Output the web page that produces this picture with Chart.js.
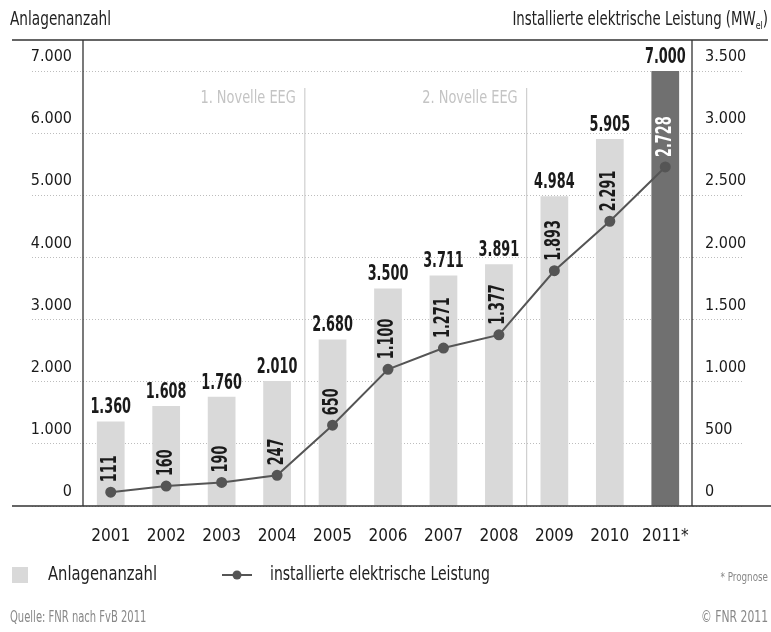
<!DOCTYPE html>
<html>
<head>
<meta charset="utf-8">
<script src="https://cdn.jsdelivr.net/npm/chart.js@4.4.0/dist/chart.umd.min.js"></script>
<style>
  html, body { margin: 0; padding: 0; background: #fff; }
  #wrap { width: 771px; height: 632px; position: relative; }
</style>
</head>
<body>
<div id="wrap"><canvas id="chart"></canvas></div>
<script>
// Data
const years = ['2001', '2002', '2003', '2004', '2005', '2006', '2007', '2008', '2009', '2010', '2011*'];
const anlagen = [1360, 1608, 1760, 2010, 2680, 3500, 3711, 3891, 4984, 5905, 7000];
const leistung = [111, 160, 190, 247, 650, 1100, 1271, 1377, 1893, 2291, 2728];
const novellen = [
  { after: '2004', label: '1. Novelle EEG' },
  { after: '2008', label: '2. Novelle EEG' },
];

const FONT = '"DejaVu Sans Condensed", "DejaVu Sans", sans-serif';
const fmt = (v) => String(v).replace(/\B(?=(\d{3})+(?!\d))/g, '.');

Chart.defaults.font.family = FONT;

const barColors = years.map((y) => (y.endsWith('*') ? '#707070' : '#d9d9d9'));

// draws text squeezed horizontally (the original uses a condensed face)
function text(ctx, str, x, y, font, opts = {}) {
  const { align = 'left', sx = 0.8, color = '#222', baseline = 'middle' } = opts;
  ctx.save();
  ctx.font = font;
  ctx.fillStyle = color;
  ctx.textBaseline = baseline;
  ctx.textAlign = align;
  ctx.translate(x, y);
  ctx.scale(sx, 1);
  ctx.fillText(str, 0, 0);
  const w = ctx.measureText(str).width * sx;
  ctx.restore();
  return w;
}

const decor = {
  id: 'decor',
  beforeDatasetsDraw(chart) {
    const { ctx, chartArea, scales: { x } } = chart;
    ctx.save();
    novellen.forEach((n) => {
      const i = years.indexOf(n.after);
      const lx = (x.getPixelForValue(i) + x.getPixelForValue(i + 1)) / 2;
      ctx.strokeStyle = '#cfcfcf';
      ctx.lineWidth = 1.2;
      ctx.beginPath();
      ctx.moveTo(lx, 88);
      ctx.lineTo(lx, chartArea.bottom);
      ctx.stroke();
      text(ctx, n.label, lx - 9, 98, `18px ${FONT}`, { align: 'right', sx: 0.8, color: '#c4c4c4' });
    });
    ctx.restore();
  },
  afterDatasetsDraw(chart) {
    const { ctx, chartArea } = chart;
    ctx.save();
    // frame
    ctx.strokeStyle = '#333';
    ctx.lineWidth = 1.3;
    ctx.beginPath();
    ctx.moveTo(12, 40); ctx.lineTo(768, 40);
    ctx.moveTo(12, chartArea.bottom); ctx.lineTo(771, chartArea.bottom);
    ctx.moveTo(chartArea.left, 40); ctx.lineTo(chartArea.left, chartArea.bottom);
    ctx.moveTo(chartArea.right - 1, 40); ctx.lineTo(chartArea.right - 1, chartArea.bottom);
    ctx.stroke();

    // bar values
    const bars = chart.getDatasetMeta(0).data;
    bars.forEach((b, i) => {
      text(ctx, fmt(anlagen[i]), b.x, b.y - 3, `bold 21px ${FONT}`,
        { align: 'center', sx: 0.68, color: '#1a1a1a', baseline: 'bottom' });
    });

    // line values, rotated
    const pts = chart.getDatasetMeta(1).data;
    pts.forEach((p, i) => {
      ctx.save();
      ctx.translate(p.x, p.y - 10);
      ctx.rotate(-Math.PI / 2);
      text(ctx, fmt(leistung[i]), 0, 0, `bold 21px ${FONT}`,
        { align: 'left', sx: 0.68, color: years[i].endsWith('*') ? '#fff' : '#1a1a1a' });
      ctx.restore();
    });

    // axis titles
    text(ctx, 'Anlagenanzahl', 10, 20, `19px ${FONT}`, { sx: 0.8 });
    const t1 = 'Installierte elektrische Leistung (MW';
    const fBig = `19px ${FONT}`;
    const fSub = `11px ${FONT}`;
    ctx.save();
    ctx.font = fBig;
    const w1 = ctx.measureText(t1).width * 0.78;
    const w2 = ctx.measureText(')').width * 0.78;
    ctx.font = fSub;
    const ws = ctx.measureText('el').width * 0.8;
    ctx.restore();
    const tx = 768 - w1 - ws - w2;
    text(ctx, t1, tx, 20, fBig, { sx: 0.78 });
    text(ctx, 'el', tx + w1, 26, fSub, { sx: 0.8 });
    text(ctx, ')', tx + w1 + ws, 20, fBig, { sx: 0.78 });

    // legend
    const ly = 575;
    ctx.fillStyle = '#d9d9d9';
    ctx.fillRect(12, ly - 8, 16, 16);
    text(ctx, 'Anlagenanzahl', 48, ly, `20px ${FONT}`, { sx: 0.82 });
    ctx.strokeStyle = '#555';
    ctx.lineWidth = 2;
    ctx.beginPath();
    ctx.moveTo(222, ly); ctx.lineTo(252, ly);
    ctx.stroke();
    ctx.fillStyle = '#555';
    ctx.beginPath();
    ctx.arc(237, ly, 4.5, 0, Math.PI * 2);
    ctx.fill();
    text(ctx, 'installierte elektrische Leistung', 270, ly, `20px ${FONT}`, { sx: 0.78 });

    text(ctx, '* Prognose', 768, ly + 3, `13px ${FONT}`, { align: 'right', sx: 0.75, color: '#888' });

    // footer
    text(ctx, 'Quelle: FNR nach FvB 2011', 10, 618, `15px ${FONT}`, { sx: 0.74, color: '#888' });
    text(ctx, '\u00A9 FNR 2011', 768, 618, `15px ${FONT}`, { align: 'right', sx: 0.8, color: '#888' });
    ctx.restore();
  },
};

new Chart(document.getElementById('chart'), {
  data: {
    labels: years,
    datasets: [
      {
        type: 'bar',
        label: 'Anlagenanzahl',
        data: anlagen,
        yAxisID: 'y',
        backgroundColor: barColors,
        barPercentage: 0.5,
        categoryPercentage: 1,
        order: 2,
      },
      {
        type: 'line',
        label: 'installierte elektrische Leistung',
        data: leistung,
        yAxisID: 'y2',
        borderColor: '#555',
        backgroundColor: '#555',
        borderWidth: 2,
        pointRadius: 4.5,
        pointBackgroundColor: '#555',
        tension: 0,
        order: 1,
      },
    ],
  },
  options: {
    responsive: true,
    maintainAspectRatio: false,
    animation: false,
    layout: { padding: { top: 71, left: 0, right: 0, bottom: 0 } },
    scales: {
      x: {
        grid: { display: false },
        border: { display: false },
        ticks: { color: '#1a1a1a', font: { size: 17 }, padding: 12, maxRotation: 0, autoSkip: false },
        afterFit: (s) => { s.height = 126; },
      },
      y: {
        position: 'left',
        min: 0,
        max: 7000,
        ticks: {
          stepSize: 1000,
          callback: (v) => fmt(v),
          color: '#1a1a1a',
          font: { size: 16 },
          padding: -40,
          labelOffset: -14,
        },
        grid: { color: '#bdbdbd', tickColor: '#bdbdbd', tickLength: 51, tickBorderDash: [1, 2] },
        border: { display: false, dash: [1, 2] },
        afterFit: (s) => { s.width = 83; },
      },
      y2: {
        position: 'right',
        min: 0,
        max: 3500,
        ticks: {
          stepSize: 500,
          callback: (v) => fmt(v),
          color: '#1a1a1a',
          font: { size: 16 },
          padding: -39,
          labelOffset: -14,
        },
        grid: { drawOnChartArea: false, tickColor: '#bdbdbd', tickLength: 51, tickBorderDash: [1, 2] },
        border: { display: false },
        afterFit: (s) => { s.width = 78; },
      },
    },
    plugins: {
      legend: { display: false },
      tooltip: { enabled: false },
    },
  },
  plugins: [decor],
});
</script>
</body>
</html>
